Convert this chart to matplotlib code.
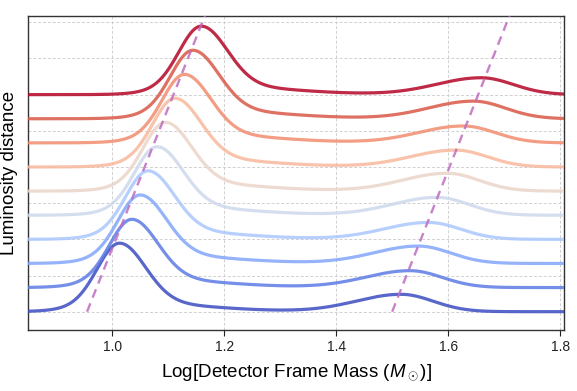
import numpy as np
import matplotlib
matplotlib.use("Agg")
import matplotlib.pyplot as plt

plt.rcParams['font.family'] = ['Liberation Sans', 'DejaVu Sans']
plt.rcParams['mathtext.fontset'] = 'custom'
plt.rcParams['mathtext.it'] = 'Liberation Sans:italic'
plt.rcParams['mathtext.rm'] = 'Liberation Sans'

# ---- data ----
offsets = [0, 1, 2, 3, 4, 5, 6, 7, 8, 9]
peak1_center = [1.013, 1.035, 1.050, 1.064, 1.080, 1.095, 1.112, 1.129, 1.144, 1.159]
peak1_height = [2.84, 2.83, 2.84, 2.84, 2.84, 2.85, 2.85, 2.84, 2.84, 2.84]
tail_height = [0.40, 0.40, 0.40, 0.40, 0.40, 0.40, 0.40, 0.40, 0.40, 0.40]
peak2_center = [1.516, 1.532, 1.547, 1.565, 1.580, 1.598, 1.613, 1.627, 1.645, 1.659]
peak2_height = [0.72, 0.70, 0.72, 0.70, 0.74, 0.74, 0.70, 0.70, 0.73, 0.70]

guide_y = [0.0, 13.0]
guide_low_x = [0.955, 1.178]
guide_high_x = [1.500, 1.722]

xticks = [1.0, 1.2, 1.4, 1.6, 1.8]
ygrid = [0, 1.5, 3, 4.5, 6, 7.5, 9, 10.5, 12]

# shape widths (log-mass units)
S1_LEFT, S1_RIGHT = 0.039, 0.046
TAIL_LEFT, TAIL_RIGHT = 0.065, 0.14
S2_LEFT, S2_RIGHT = 0.08, 0.057


def asym_gauss(x, c, sl, sr):
    s = np.where(x < c, sl, sr)
    return np.exp(-0.5 * ((x - c) / s) ** 2)


fig = plt.figure(figsize=(5.77, 3.91), dpi=100)
ax = fig.add_axes([0.049, 0.156, 0.9285, 0.803])

x = np.linspace(0.85, 1.807, 800)
colors = plt.cm.coolwarm(np.linspace(0, 1, len(offsets)))

for i, off in enumerate(offsets):
    y = ((peak1_height[i] - tail_height[i]) * asym_gauss(x, peak1_center[i], S1_LEFT, S1_RIGHT)
         + tail_height[i] * asym_gauss(x, peak1_center[i], TAIL_LEFT, TAIL_RIGHT)
         + peak2_height[i] * asym_gauss(x, peak2_center[i], S2_LEFT, S2_RIGHT))
    ax.plot(x, y + off, color=colors[i], lw=2.3, alpha=0.85, solid_capstyle='round', zorder=3)

for gx in (guide_low_x, guide_high_x):
    ax.plot(gx, guide_y, ls=(0, (3.8, 2.6)), color='#bd6cc0', alpha=0.85, lw=1.7, zorder=4)

ax.set_xlim(0.85, 1.807)
ax.set_ylim(-0.76, 12.26)
ax.set_xticks(xticks)
ax.set_xticklabels([f"{t:.1f}" for t in xticks])
ax.set_yticks(ygrid)
ax.set_yticklabels([])
ax.tick_params(axis='y', length=0)
ax.tick_params(axis='x', length=4, width=0.8, labelsize=10, pad=3, colors='#222222')
ax.grid(True, ls=(0, (3, 2)), color='#d0d0d0', lw=0.7, zorder=0)
ax.set_axisbelow(True)
for sp in ax.spines.values():
    sp.set_color('#333333')
    sp.set_linewidth(1.0)

ax.set_xlabel(r"Log[Detector Frame Mass ($M_\odot$)]", fontsize=13.5, labelpad=6)
ax.set_ylabel("Luminosity distance", fontsize=13.5, labelpad=4)

fig.savefig("out.png", dpi=100)
